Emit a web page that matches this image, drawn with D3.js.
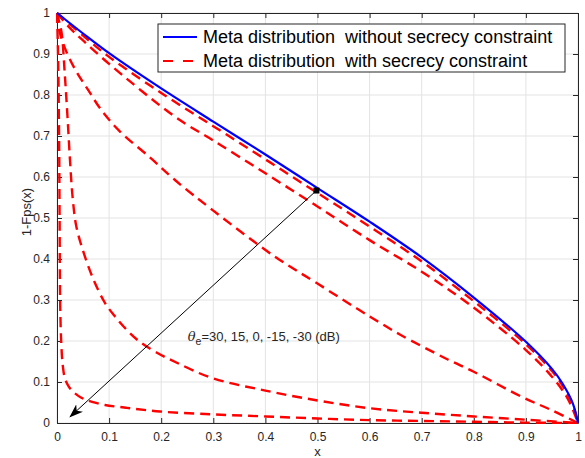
<!DOCTYPE html>
<html>
<head>
<meta charset="utf-8">
<style>
html, body { margin: 0; padding: 0; background: #fff; }
svg { display: block; font-family: "Liberation Sans", Arial, sans-serif; }
.grid line { stroke: #e3e3e3; stroke-width: 1; }
.axis path, .axis line { stroke: #262626; }
.axis text { fill: #262626; font-size: 12px; }
.pre { white-space: pre; }
</style>
</head>
<body>
<div id="chart"></div>
<script src="https://cdn.jsdelivr.net/npm/d3@7"></script>
<script>
// values
var xTicks = [0, 0.1, 0.2, 0.3, 0.4, 0.5, 0.6, 0.7, 0.8, 0.9, 1];
var yTicks = [0, 0.1, 0.2, 0.3, 0.4, 0.5, 0.6, 0.7, 0.8, 0.9, 1];

var blueX = [0, 0.05, 0.1, 0.2, 0.3, 0.4, 0.5, 0.6, 0.7, 0.8, 0.9, 0.95, 0.97, 0.99, 1];
var blueY = [1, 0.95, 0.902, 0.816, 0.735, 0.655, 0.573, 0.491, 0.404, 0.306, 0.198, 0.132, 0.097, 0.048, 0];

// theta_e = 30, 15, 0, -15, -30 dB
var red30X = [0, 0.05, 0.1, 0.2, 0.3, 0.4, 0.5, 0.6, 0.7, 0.8, 0.9, 0.95, 0.97, 0.99, 1];
var red30Y = [1, 0.945, 0.893, 0.805, 0.724, 0.643, 0.561, 0.479, 0.394, 0.297, 0.192, 0.127, 0.092, 0.045, 0];

var red15X = [0, 0.025, 0.05, 0.1, 0.2265, 0.3, 0.4, 0.5, 0.6, 0.7, 0.793, 0.9, 0.95, 0.98, 1];
var red15Y = [1, 0.963, 0.933, 0.876, 0.747, 0.689, 0.609, 0.528, 0.446, 0.369, 0.288, 0.178, 0.113, 0.06, 0];

var red0X = [0, 0.004, 0.015, 0.035, 0.06, 0.083, 0.12, 0.18, 0.227, 0.3, 0.418, 0.5, 0.6, 0.658, 0.75, 0.8, 0.895, 0.95, 1];
var red0Y = [1, 0.96, 0.915, 0.862, 0.812, 0.767, 0.712, 0.646, 0.592, 0.518, 0.406, 0.34, 0.26, 0.216, 0.155, 0.125, 0.062, 0.031, 0];

var redm15X = [0, 0.004, 0.009, 0.015, 0.02, 0.025, 0.03, 0.037, 0.05, 0.07, 0.092, 0.11, 0.134, 0.159, 0.191, 0.23, 0.297, 0.4, 0.5, 0.6, 0.7, 0.8, 0.9, 1];
var redm15Y = [1, 0.98, 0.95, 0.85, 0.75, 0.64, 0.55, 0.48, 0.42, 0.35, 0.293, 0.262, 0.227, 0.198, 0.172, 0.147, 0.11, 0.079, 0.055, 0.036, 0.025, 0.016, 0.008, 0];

var redm30X = [0, 0.002, 0.004, 0.005, 0.006, 0.008, 0.011, 0.015, 0.022, 0.031, 0.045, 0.057, 0.075, 0.092, 0.134, 0.198, 0.3, 0.4, 0.5, 0.6, 0.7, 0.8, 0.9, 1];
var redm30Y = [1, 0.9, 0.7, 0.5, 0.3, 0.2, 0.141, 0.11, 0.09, 0.076, 0.063, 0.056, 0.049, 0.044, 0.037, 0.028, 0.021, 0.016, 0.011, 0.007, 0.005, 0.003, 0.001, 0];

var legendLabels = ["Meta distribution  without secrecy constraint", "Meta distribution  with secrecy constraint"];
var arrowFrom = [0.498, 0.567];
var arrowTo = [0.025, 0.015];

var W = 585, H = 458;
var margin = {left: 57, top: 13, right: 7, bottom: 35};
var w = W - margin.left - margin.right, h = H - margin.top - margin.bottom;

var svg = d3.select("#chart").append("svg").attr("width", W).attr("height", H);
var g = svg.append("g").attr("transform", "translate(" + margin.left + "," + margin.top + ")");

var x = d3.scaleLinear().domain([0, 1]).range([0, w]);
var y = d3.scaleLinear().domain([0, 1]).range([h, 0]);

// grid
g.append("g").attr("class", "grid").selectAll("line").data(xTicks).join("line")
  .attr("x1", d => x(d)).attr("x2", d => x(d)).attr("y1", 0).attr("y2", h);
g.append("g").attr("class", "grid").selectAll("line").data(yTicks).join("line")
  .attr("y1", d => y(d)).attr("y2", d => y(d)).attr("x1", 0).attr("x2", w);

// axes, ticks inward like matlab
var fmt = d3.format("");
g.append("g").attr("class", "axis").attr("transform", "translate(0," + h + ")")
  .call(d3.axisBottom(x).tickValues(xTicks).tickFormat(fmt).tickSizeInner(-5).tickSizeOuter(0).tickPadding(9));
g.append("g").attr("class", "axis")
  .call(d3.axisLeft(y).tickValues(yTicks).tickFormat(fmt).tickSizeInner(-5).tickSizeOuter(0).tickPadding(7));
g.append("g").attr("class", "axis")
  .call(d3.axisTop(x).tickValues(xTicks).tickFormat("").tickSizeInner(-5).tickSizeOuter(0));
g.append("g").attr("class", "axis").attr("transform", "translate(" + w + ",0)")
  .call(d3.axisRight(y).tickValues(yTicks).tickFormat("").tickSizeInner(-5).tickSizeOuter(0));

svg.append("clipPath").attr("id", "clip").append("rect")
  .attr("x", -1).attr("y", -1).attr("width", w + 2).attr("height", h + 2);

var line = d3.line().x(d => x(d[0])).y(d => y(d[1])).curve(d3.curveCatmullRom.alpha(0.5));
function pts(xs, ys) { return xs.map((v, i) => [v, ys[i]]); }

var plot = g.append("g").attr("clip-path", "url(#clip)");

var reds = [[red30X, red30Y], [red15X, red15Y], [red0X, red0Y], [redm15X, redm15Y], [redm30X, redm30Y]];
plot.selectAll("path.red").data(reds).join("path").attr("class", "red")
  .attr("d", d => line(pts(d[0], d[1])))
  .attr("fill", "none").attr("stroke", "#ff0000").attr("stroke-width", 2.4)
  .attr("stroke-dasharray", "10,6");

plot.append("path").attr("d", line(pts(blueX, blueY)))
  .attr("fill", "none").attr("stroke", "#0000ff").attr("stroke-width", 2.2);

// annotation arrow
var defs = svg.append("defs");
defs.append("marker").attr("id", "head").attr("viewBox", "0 0 14 10")
  .attr("refX", 13).attr("refY", 5).attr("markerWidth", 14).attr("markerHeight", 10)
  .attr("markerUnits", "userSpaceOnUse").attr("orient", "auto")
  .append("path").attr("d", "M0,0 L14,5 L0,10 L4,5 Z").attr("fill", "#000");

g.append("line")
  .attr("x1", x(arrowFrom[0])).attr("y1", y(arrowFrom[1]))
  .attr("x2", x(arrowTo[0])).attr("y2", y(arrowTo[1]))
  .attr("stroke", "#000").attr("stroke-width", 1).attr("marker-end", "url(#head)");
g.append("rect").attr("x", x(arrowFrom[0]) - 3).attr("y", y(arrowFrom[1]) - 3)
  .attr("width", 6).attr("height", 6).attr("fill", "#000");

var ann = g.append("text").attr("x", x(0.251)).attr("y", y(0.2)).attr("font-size", 13).attr("fill", "#262626");
ann.append("tspan").attr("font-style", "italic").attr("font-family", "'DejaVu Serif', serif").text("θ");
ann.append("tspan").attr("font-size", 10.5).attr("dy", 4).text("e");
ann.append("tspan").attr("dy", -4).text("=30, 15, 0, -15, -30 (dB)");

// axis labels
svg.append("text").attr("x", margin.left + w / 2).attr("y", 456).attr("text-anchor", "middle")
  .attr("font-size", 13).attr("fill", "#262626").text("x");
svg.append("text").attr("transform", "translate(31," + 212 + ") rotate(-90)").attr("text-anchor", "middle")
  .attr("font-size", 13).attr("fill", "#262626").text("1-Fps(x)");

// legend
var lg = svg.append("g").attr("transform", "translate(158,24)");
lg.append("rect").attr("width", 407).attr("height", 48).attr("fill", "#fff").attr("stroke", "#262626").attr("stroke-width", 1);
var items = lg.selectAll("g").data(legendLabels).join("g").attr("transform", (d, i) => "translate(0," + (13 + i * 24) + ")");
items.append("line").attr("x1", 5).attr("x2", 39).attr("y1", 0).attr("y2", 0)
  .attr("stroke", (d, i) => i ? "#ff0000" : "#0000ff").attr("stroke-width", 2)
  .attr("stroke-dasharray", (d, i) => i ? "10,10" : null);
items.append("text").attr("class", "pre").attr("x", 45).attr("y", 6).attr("font-size", 18).attr("fill", "#000").text(d => d);
</script>
</body>
</html>
